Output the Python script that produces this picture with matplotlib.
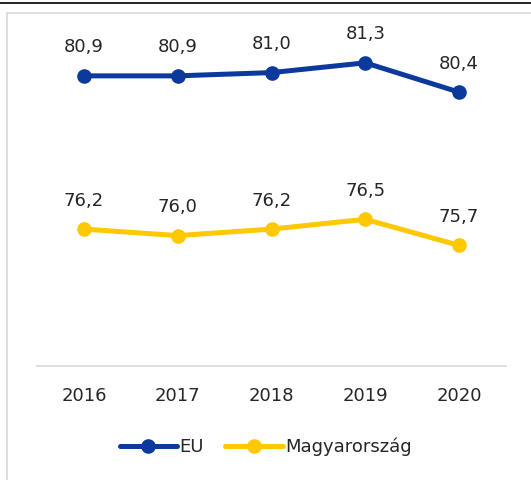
"""
EU vs Magyarország line chart
"""

import matplotlib.pyplot as plt
from matplotlib.lines import Line2D
from matplotlib.patches import Rectangle

years = ['2016', '2017', '2018', '2019', '2020']
eu = [80.9, 80.9, 81.0, 81.3, 80.4]
hu = [76.2, 76.0, 76.2, 76.5, 75.7]
eu_labels = ['80,9', '80,9', '81,0', '81,3', '80,4']
hu_labels = ['76,2', '76,0', '76,2', '76,5', '75,7']

EU_COLOR = '#0C3A9C'
HU_COLOR = '#FFC800'
W, H = 531, 480

fig = plt.figure(figsize=(W / 100, H / 100), dpi=100)

# outer decorations: black rule on top, light gray chart frame
fig.add_artist(Line2D([0, 1], [1 - 3 / H, 1 - 3 / H], color='black', lw=1.2,
                      transform=fig.transFigure))
fig.add_artist(Rectangle((7 / W, -0.1), 1.2, 1 - 13 / H + 0.1,
                         transform=fig.transFigure, fill=False,
                         edgecolor='#D9D9D9', lw=1.2))

ax = fig.add_axes([37 / W, 1 - 366 / H, (506 - 37) / W, (366 - 40) / H])
x = list(range(len(years)))

ax.plot(x, eu, color=EU_COLOR, lw=3.6, marker='o', markersize=9.5,
        solid_capstyle='round', label='EU', clip_on=False)
ax.plot(x, hu, color=HU_COLOR, lw=3.6, marker='o', markersize=9.5,
        solid_capstyle='round', label='Magyarország', clip_on=False)

for xi, v, s in zip(x, eu, eu_labels):
    ax.annotate(s, (xi, v), xytext=(0, 14), textcoords='offset points',
                ha='center', va='bottom', fontsize=13, color='#262626')
for xi, v, s in zip(x, hu, hu_labels):
    ax.annotate(s, (xi, v), xytext=(0, 14), textcoords='offset points',
                ha='center', va='bottom', fontsize=13, color='#262626')

ax.set_xlim(-0.5, 4.5)
ax.set_ylim(72, 82)
ax.set_xticks(x)
ax.set_xticklabels(years, fontsize=13, color='#262626')
ax.tick_params(axis='x', length=0, pad=15)
ax.set_yticks([])
for side in ['top', 'right', 'left']:
    ax.spines[side].set_visible(False)
ax.spines['bottom'].set_color('#D9D9D9')
ax.spines['bottom'].set_linewidth(1.2)

leg = fig.legend(loc='center', bbox_to_anchor=(0.5, 1 - 447 / H), ncol=2,
                 frameon=False, fontsize=13, handlelength=3.2,
                 handletextpad=0.1, columnspacing=1.2)
for t in leg.get_texts():
    t.set_color('#262626')

fig.savefig('out.png', dpi=100)
